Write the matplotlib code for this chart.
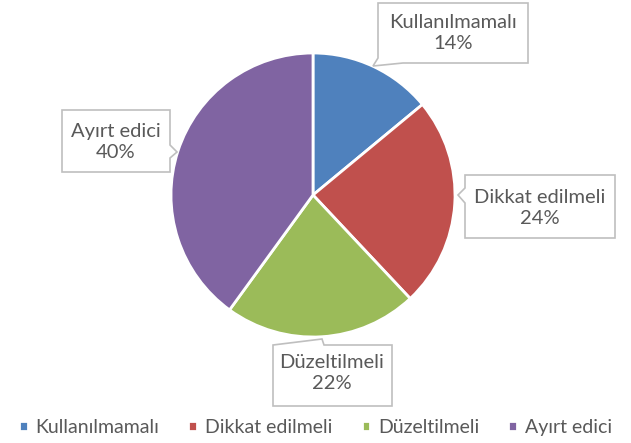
import matplotlib
matplotlib.use("Agg")
import matplotlib.pyplot as plt
from matplotlib.patches import Polygon

plt.rcParams['font.family'] = ['Lato', 'DejaVu Sans']

# data
categories = ['Kullanılmamalı', 'Dikkat edilmeli', 'Düzeltilmeli', 'Ayırt edici']
values = [14, 24, 22, 40]
colors = ['#4F81BD', '#C0504D', '#9BBB59', '#8064A2']

W, H = 631, 443
fig = plt.figure(figsize=(W / 100, H / 100), dpi=100)
ax = fig.add_axes([0, 0, 1, 1])


def Y(y):
    # pixel row (from top) -> axis coordinate
    return H - y


wedges, _ = ax.pie(values, colors=colors, startangle=90, counterclock=False,
                   center=(313, Y(195)), radius=142, frame=True,
                   wedgeprops=dict(edgecolor='white', linewidth=2))
ax.set_xlim(0, W)
ax.set_ylim(0, H)
ax.set_aspect('auto')
ax.axis('off')

# callout boxes (outline incl. pointer), in pixel coords from top-left
callouts = [
    [(378, 3), (528, 3), (528, 63), (403, 63), (373, 66), (378, 58)],
    [(465, 175), (615, 175), (615, 238), (465, 238), (465, 203), (458, 195), (465, 188)],
    [(273, 345), (322, 339), (324, 345), (392, 345), (392, 406), (273, 406)],
    [(62, 110), (170, 110), (170, 145), (177, 152), (170, 158), (170, 172), (62, 172)],
]
text_pos = [(453, 33), (540, 208), (332, 373), (116, 142)]

for i, pts in enumerate(callouts):
    poly = Polygon([(x, Y(y)) for x, y in pts], closed=True, facecolor='white',
                   edgecolor='#BFBFBF', linewidth=1.2, zorder=3)
    ax.add_patch(poly)
    tx, ty = text_pos[i]
    ax.text(tx, Y(ty), f"{categories[i]}\n{values[i]}%", ha='center', va='center',
            fontsize=14.5, color='#595959', linespacing=1.3, zorder=4)

fig.legend(wedges, categories, loc='lower center', bbox_to_anchor=(0.5, -0.01),
           ncol=4, frameon=False, fontsize=14, labelcolor='#595959',
           handlelength=0.45, handleheight=0.45, handletextpad=0.4,
           columnspacing=1.5, borderaxespad=0.2)

fig.savefig('out.png', dpi=100)
